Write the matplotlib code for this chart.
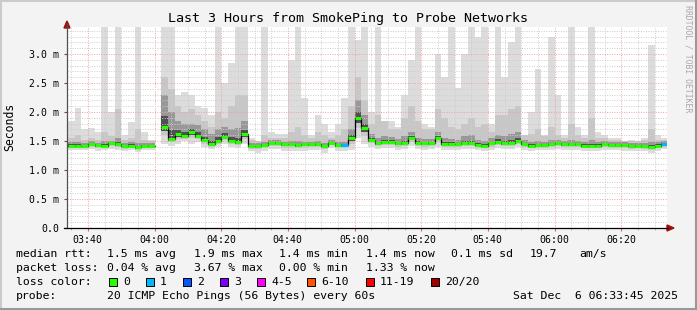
import numpy as np
import matplotlib.pyplot as plt
from matplotlib.patches import Rectangle, Polygon
from matplotlib.lines import Line2D

nan = np.nan

# time axis: minutes after midnight, 2 minute bins starting at 03:34
start_min = 214
step_min = 2
x_start, x_end = 213.75, 393.75   # 03:33:45 .. 06:33:45

# median rtt per bin (ms)
median_ms = [1.42, 1.42, 1.42, 1.45, 1.43, 1.42, 1.46, 1.44, 1.41, 1.42, 1.39, 1.41, 1.41,
             nan,
             1.75, 1.53, 1.62, 1.58, 1.66, 1.58, 1.51, 1.45, 1.50, 1.57, 1.50, 1.48, 1.62,
             1.41, 1.42, 1.43, 1.47, 1.47, 1.44, 1.44, 1.43, 1.44, 1.44, 1.44, 1.42, 1.47, 1.43, 1.43,
             1.55, 1.89, 1.72, 1.52, 1.46, 1.49, 1.49, 1.46, 1.46, 1.56, 1.47, 1.46, 1.46, 1.55, 1.45, 1.45, 1.44, 1.46,
             1.46, 1.43, 1.42, 1.46, 1.49, 1.46, 1.47, 1.50, 1.45, 1.42, 1.43, 1.43, 1.44, 1.46, 1.44,
             1.44, 1.44, 1.42, 1.42, 1.42, 1.44, 1.43, 1.43, 1.43, 1.42, 1.42, 1.41, 1.40, 1.42, 1.45]
# lowest ping per bin (ms)
low_ms = [1.34, 1.35, 1.34, 1.36, 1.32, 1.34, 1.36, 1.34, 1.33, 1.35, 1.31, 1.34, 1.34,
          nan,
          1.45, 1.42, 1.45, 1.50, 1.45, 1.48, 1.40, 1.36, 1.40, 1.45, 1.40, 1.38, 1.45,
          1.33, 1.30, 1.33, 1.36, 1.36, 1.33, 1.32, 1.33, 1.33, 1.34, 1.35, 1.30, 1.38, 1.32, 1.33,
          1.34, 1.55, 1.45, 1.40, 1.36, 1.38, 1.38, 1.35, 1.36, 1.42, 1.36, 1.35, 1.36, 1.40, 1.35, 1.35, 1.34, 1.36,
          1.36, 1.34, 1.33, 1.35, 1.38, 1.36, 1.36, 1.40, 1.35, 1.33, 1.34, 1.34, 1.35, 1.36, 1.35,
          1.35, 1.35, 1.33, 1.33, 1.33, 1.35, 1.34, 1.34, 1.33, 1.32, 1.33, 1.32, 1.30, 1.33, 1.36]
# upper edge of the dark smoke (ms)
dark_ms = [1.48, 1.48, 1.47, 1.50, 1.47, 1.50, 1.50, 1.55, 1.47, 1.48, 1.47, 1.46, 1.46,
           nan,
           2.30, 2.00, 1.85, 1.80, 1.80, 1.78, 1.70, 1.62, 1.70, 1.75, 1.70, 1.72, 1.85,
           1.46, 1.47, 1.48, 1.52, 1.52, 1.49, 1.50, 1.50, 1.49, 1.49, 1.50, 1.47, 1.52, 1.48, 1.48,
           1.70, 2.20, 1.95, 1.62, 1.55, 1.58, 1.57, 1.54, 1.58, 1.65, 1.56, 1.54, 1.54, 1.65, 1.55, 1.54, 1.52, 1.58,
           1.60, 1.52, 1.50, 1.55, 1.60, 1.58, 1.62, 1.65, 1.52, 1.48, 1.50, 1.49, 1.52, 1.52, 1.50,
           1.52, 1.50, 1.48, 1.52, 1.48, 1.50, 1.48, 1.48, 1.48, 1.47, 1.47, 1.46, 1.48, 1.48, 1.50]
# upper edge of the medium smoke (ms)
mid_ms = [1.55, 1.60, 1.52, 1.55, 1.52, 1.65, 1.58, 2.05, 1.52, 1.55, 1.70, 1.52, 1.50,
          nan,
          2.60, 2.40, 2.10, 2.00, 2.05, 1.95, 1.85, 1.75, 2.00, 1.90, 2.10, 2.30, 2.30,
          1.52, 1.50, 1.60, 1.55, 1.55, 1.55, 1.65, 1.75, 1.60, 1.55, 1.65, 1.60, 1.55, 1.60, 1.70,
          2.10, 2.60, 2.20, 1.80, 1.95, 1.85, 1.70, 1.70, 1.90, 2.10, 1.85, 1.70, 1.70, 2.05, 1.90, 1.75, 1.70, 1.80,
          1.90, 1.75, 1.80, 1.65, 1.95, 1.95, 2.05, 2.10, 1.60, 1.62, 1.70, 1.58, 1.75, 1.60, 1.55,
          1.80, 1.60, 1.55, 1.90, 1.55, 1.55, 1.52, 1.52, 1.50, 1.50, 1.50, 1.52, 1.70, 1.52, 1.52]
# highest ping per bin (ms), values above the top are cut off
top_ms = [1.85, 2.07, 1.70, 1.72, 1.65, 3.60, 2.00, 3.60, 1.60, 1.83, 3.60, 1.65, 1.52,
          nan,
          3.60, 3.60, 2.30, 2.35, 2.30, 2.10, 2.07, 1.95, 3.60, 2.50, 2.85, 3.60, 3.60,
          1.55, 1.50, 3.60, 1.65, 1.62, 1.62, 2.90, 3.60, 2.25, 1.60, 1.95, 1.80, 1.65, 1.80, 2.24,
          3.60, 3.25, 3.60, 2.00, 3.60, 1.80, 1.85, 1.75, 2.30, 2.90, 3.60, 1.80, 1.75, 3.00, 2.60, 3.60, 2.42, 3.00,
          3.60, 3.30, 3.60, 1.80, 3.60, 2.60, 3.20, 3.60, 1.60, 2.00, 2.75, 1.60, 3.30, 2.30, 1.60,
          3.60, 1.75, 1.60, 3.60, 1.65, 1.60, 1.55, 1.55, 1.50, 1.52, 1.50, 1.55, 3.15, 1.60, 1.55]
# lost pings per bin, as index into the loss colours
loss_idx = [0] * 90
loss_idx[41] = 1
loss_idx[89] = 1

loss_labels = ["0", "1", "2", "3", "4-5", "6-10", "11-19", "20/20"]
loss_colors = ["#26ff00", "#00b8ff", "#0059ff", "#7e00ff", "#ff00ff", "#ff5500", "#ff0000", "#a10000"]

xtick_pos = [220, 240, 260, 280, 300, 320, 340, 360, 380]
xtick_labels = ["03:40", "04:00", "04:20", "04:40", "05:00", "05:20", "05:40", "06:00", "06:20"]
ytick_pos = [0.0, 0.5, 1.0, 1.5, 2.0, 2.5, 3.0]
ytick_labels = ["0.0", "0.5 m", "1.0 m", "1.5 m", "2.0 m", "2.5 m", "3.0 m"]

W, H = 697, 310
mono = "DejaVu Sans Mono"


def px(x, y):
    return x / W, 1 - y / H


fig = plt.figure(figsize=(W / 100, H / 100), dpi=100, facecolor="#f3f3f3")
ax = fig.add_axes([67 / W, (H - 228) / H, 600 / W, 201 / H])
ax.set_facecolor("white")

median = np.array(median_ms)
low = np.array(low_ms)
dark = np.array(dark_ms)
mid = np.array(mid_ms)
top = np.array(top_ms)
left = start_min + step_min * np.arange(len(median))
ok = ~np.isnan(median)

# smoke layers, lightest first
ax.bar(left[ok], (top - low)[ok], bottom=low[ok], width=step_min, align="edge",
       color="#dcdcdc", linewidth=0, zorder=1)
lo2 = (low + median) / 2
ax.bar(left[ok], (mid - lo2)[ok], bottom=lo2[ok], width=step_min, align="edge",
       color="#c7c7c7", linewidth=0, zorder=1.1)
lo3 = median - (median - low) / 4
ax.bar(left[ok], (dark - lo3)[ok], bottom=lo3[ok], width=step_min, align="edge",
       color="#989898", linewidth=0, zorder=1.2)
hi4 = median + (dark - median) / 3
ax.bar(left[ok], (hi4 - lo3)[ok], bottom=lo3[ok], width=step_min, align="edge",
       color="#505050", linewidth=0, zorder=1.3)

# median line: black connectors, coloured by loss
xs = np.append(left, left[-1] + step_min)
ax.step(xs, np.append(median, median[-1]), where="post", color="black", lw=0.9, zorder=3)
for i in np.where(ok)[0]:
    ax.hlines(median[i], left[i], left[i] + step_min, colors=loss_colors[loss_idx[i]],
              lw=2.2, zorder=4)

ax.set_xlim(x_start, x_end)
ax.set_ylim(0, 201 / 58)
ax.set_xticks(xtick_pos)
ax.set_xticklabels(xtick_labels, fontfamily=mono, fontsize=7.1)
ax.set_xticks(np.arange(215, 394, 5), minor=True)
ax.set_yticks(ytick_pos)
ax.set_yticklabels(ytick_labels, fontfamily=mono, fontsize=7.1)
ax.set_yticks(np.arange(0, 3.45, 0.1), minor=True)
ax.tick_params(axis="x", which="major", length=2.5, color="#e06060", pad=2.5)
ax.tick_params(axis="x", which="minor", length=1.5, color="#aaaaaa")
ax.tick_params(axis="y", which="major", length=2.5, color="#555555", pad=3)
ax.tick_params(axis="y", which="minor", length=0)
ax.set_axisbelow(False)
ax.grid(which="minor", color="#cdcdcd", linestyle=(0, (1, 1.5)), lw=0.7, zorder=2)
ax.grid(which="major", color="#f2a0a0", linestyle=(0, (1, 1.5)), lw=0.7, zorder=2.1)
for s in ax.spines.values():
    s.set_visible(False)

# axes with arrows
fig.add_artist(Line2D([67 / W, 67 / W], [px(0, 228)[1], px(0, 24)[1]],
                      color="#505050", lw=0.9, transform=fig.transFigure))
fig.add_artist(Line2D([px(64, 0)[0], px(668, 0)[0]], [px(0, 228)[1]] * 2,
                      color="black", lw=0.9, transform=fig.transFigure))
fig.add_artist(Polygon([px(64, 28), px(70, 28), px(67, 21)], closed=True,
                       color="#a01010", transform=fig.transFigure))
fig.add_artist(Polygon([px(667, 225), px(667, 231), px(674, 228)], closed=True,
                       color="#a01010", transform=fig.transFigure))

# frame
fig.add_artist(Line2D([0, 1], [1 - 1 / H] * 2, color="#cbcbcb", lw=1.5, transform=fig.transFigure))
fig.add_artist(Line2D([1 / W] * 2, [0, 1], color="#cbcbcb", lw=1.5, transform=fig.transFigure))
fig.add_artist(Line2D([0, 1], [1 / H] * 2, color="#999999", lw=1.5, transform=fig.transFigure))
fig.add_artist(Line2D([1 - 1 / W] * 2, [0, 1], color="#999999", lw=1.5, transform=fig.transFigure))

fig.text(*px(348, 18.5), "Last 3 Hours from SmokePing to Probe Networks", fontfamily=mono,
         fontsize=9.6, ha="center", va="center")
fig.text(*px(10, 127), "Seconds", fontfamily=mono, fontsize=8.3, rotation=90,
         ha="center", va="center")
fig.text(*px(688, 5), "RRDTOOL / TOBI OETIKER", fontfamily=mono, fontsize=5.9,
         rotation=270, ha="center", va="top", color="#a8a8a8")

legend_rows = [
    (254, [(16, "median rtt:"), (107, "1.5 ms avg"), (194, "1.9 ms max"), (279, "1.4 ms min"),
           (366, "1.4 ms now"), (451, "0.1 ms sd"), (530, "19.7"), (579, "am/s")]),
    (268, [(16, "packet loss:"), (107, "0.04 % avg"), (194, "3.67 % max"), (279, "0.00 % min"),
           (366, "1.33 % now")]),
    (282, [(16, "loss color:")]),
    (296, [(16, "probe:"), (107, "20 ICMP Echo Pings (56 Bytes) every 60s"),
           (513, "Sat Dec  6 06:33:45 2025")]),
]
for y, pieces in legend_rows:
    for x, s in pieces:
        fig.text(*px(x, y), s, fontfamily=mono, fontsize=8.25, ha="left", va="center")

box_x = [109, 146, 183, 220, 257, 307, 366, 431]
for bx, lab, col in zip(box_x, loss_labels, loss_colors):
    fig.add_artist(Rectangle(px(bx, 286), 8 / W, 8 / H, facecolor=col, edgecolor="black",
                             lw=0.7, transform=fig.transFigure))
    fig.text(*px(bx + 14, 282), lab, fontfamily=mono, fontsize=8.25, ha="left", va="center")

fig.savefig("out.png", dpi=100, facecolor=fig.get_facecolor())
